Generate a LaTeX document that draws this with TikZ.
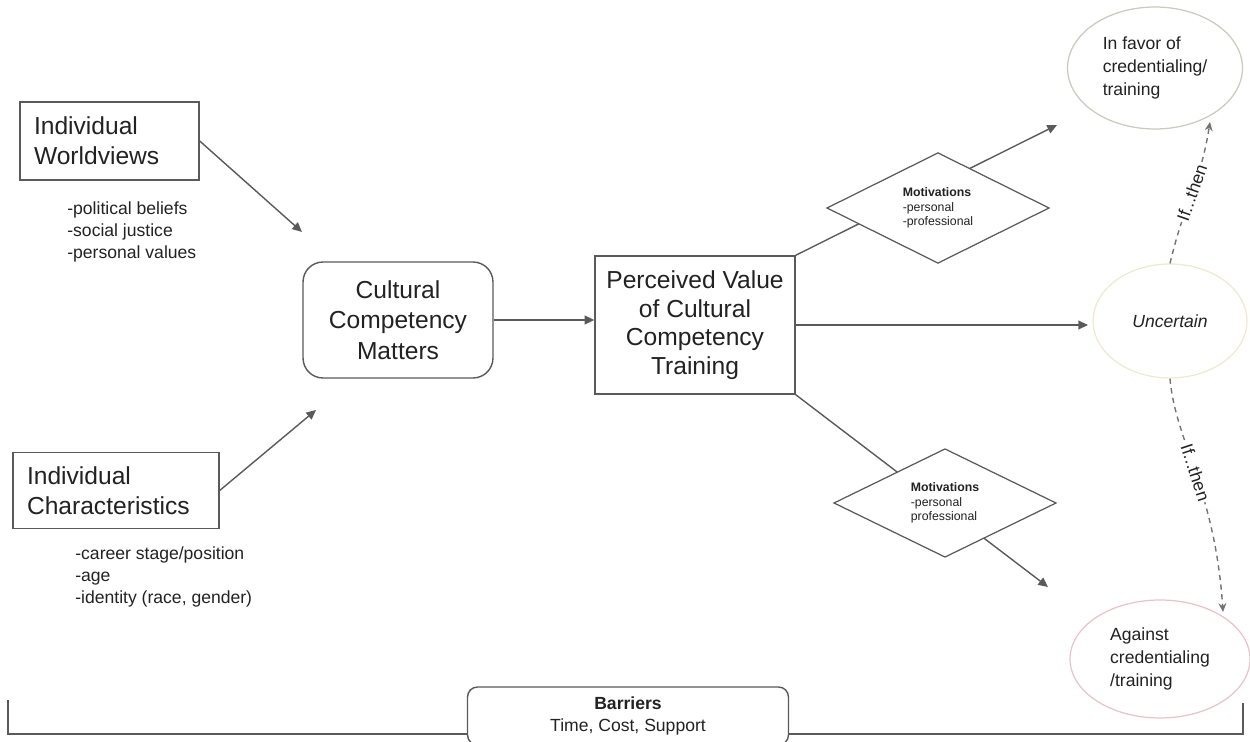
\documentclass[tikz,border=0pt]{standalone}
\usepackage{fontspec}
\setmainfont{Liberation Sans}
\usetikzlibrary{arrows.meta,shapes.geometric}
\definecolor{ln}{HTML}{5A5A5A}
\definecolor{txt}{HTML}{222222}
\definecolor{ellA}{HTML}{CACAC0}
\definecolor{ellB}{HTML}{EEEAD0}
\definecolor{ellC}{HTML}{E6C4CA}
\begin{document}
\begin{tikzpicture}[x=0.02cm,y=-0.02cm,
  every node/.style={text=txt},
  conn/.style={draw=ln, line width=0.8pt, -{Triangle[length=5.5pt,width=5pt]}},
  dconn/.style={draw=ln!85, line width=0.8pt, dash pattern=on 3pt off 2.5pt, -{Stealth[length=5pt,width=4.5pt]}},
  bigbox/.style={draw=ln, line width=0.8pt, fill=white, inner sep=0pt, font=\fontsize{14}{17}\selectfont},
  bullets/.style={anchor=west, inner sep=0pt, align=left, font=\fontsize{10}{12.5}\selectfont},
  motiv/.style={diamond, draw=ln, line width=0.7pt, fill=white, inner sep=0pt, minimum width=4.45cm, minimum height=1.52cm, align=left, font=\fontsize{7}{8.2}\selectfont},
  ell/.style={ellipse, line width=0.7pt, fill=white, inner sep=0pt, align=left, font=\fontsize{10}{13}\selectfont},
  lbl/.style={fill=white, inner sep=1pt, font=\fontsize{10}{12}\selectfont},
  brk/.style={draw=ln, line width=0.9pt}
]
\useasboundingbox (0,0) rectangle (1250,742);

% left boxes
\node[bigbox, minimum width=3.58cm, minimum height=1.56cm, align=left, text width=3.02cm] (iw) at (109.5,141) {Individual\\Worldviews};
\node[bigbox, minimum width=4.12cm, minimum height=1.52cm, align=left, text width=3.56cm] (ic) at (116,490.5) {Individual\\Characteristics};
\node[bullets] (iwl) at (67,232) {-political beliefs\\-social justice\\-personal values};
\node[bullets] (icl) at (75,577) {-career stage/position\\-age\\-identity (race, gender)};

% central boxes
\node[bigbox, rounded corners=0.4cm, minimum width=3.8cm, minimum height=2.32cm, align=center, font=\fontsize{14}{17.3}\selectfont] (ccm) at (398,320) {Cultural\\Competency\\Matters};
\node[bigbox, minimum width=4cm, minimum height=2.76cm, align=center, font=\fontsize{14}{16.2}\selectfont] (pv) at (695,325) {Perceived Value\\of Cultural\\Competency\\Training};

% outcome ellipses
\node[ell, draw=ellA, minimum width=3.5cm, minimum height=2.44cm] (fav) at (1155,68) {In favor of\\credentialing/\\training};
\node[ell, draw=ellB, minimum width=3.08cm, minimum height=2.28cm, font=\fontsize{10}{13}\selectfont\itshape] (unc) at (1170,321) {Uncertain};
\node[ell, draw=ellC, minimum width=3.6cm, minimum height=2.36cm] (ag) at (1160,659) {Against\\credentialing\\/training};

% free ends
\coordinate (iwend) at (302,232);
\coordinate (icend) at (316,410);
\coordinate (uend) at (1088,325);
\coordinate (t1) at (1057,125);
\coordinate (t2) at (1048,587);
\coordinate (f1) at (1210,122);
\coordinate (a1) at (1223,612);

% connectors
\draw[conn] (iw.east) -- (iwend);
\draw[conn] (ic.east) -- (icend);
\draw[conn] (ccm.east) -- (ccm.east -| pv.west);
\draw[conn] (pv.east) -- (uend);
\draw[conn] (pv.north east) -- (t1);
\draw[conn] (pv.south east) -- (t2);

% motivations diamonds (over the lines)
\node[motiv] (m1) at (938,208) {\textbf{Motivations}\\-personal\\-professional};
\node[motiv] (m2) at (945,503) {\textbf{Motivations}\\-personal\\professional};

% if...then transitions
\draw[dconn] (unc.north) .. controls (1185,200) and (1200,185) .. (f1)
  node[pos=0.5, sloped, lbl] {If...then};
\draw[dconn] (unc.south) .. controls (1175,440) and (1215,490) .. (a1)
  node[pos=0.5, sloped, lbl] {If...then};

% barriers bracket
\draw[brk] (8,700) -- (8,734) -- (1243,734) -- (1243,703);
\node[draw=ln, line width=0.8pt, fill=white, rounded corners=0.2cm, minimum width=6.42cm, minimum height=1.16cm, align=center, font=\fontsize{10}{13}\selectfont] (bar) at (628,716) {\textbf{Barriers}\\Time, Cost, Support};
\end{tikzpicture}
\end{document}
